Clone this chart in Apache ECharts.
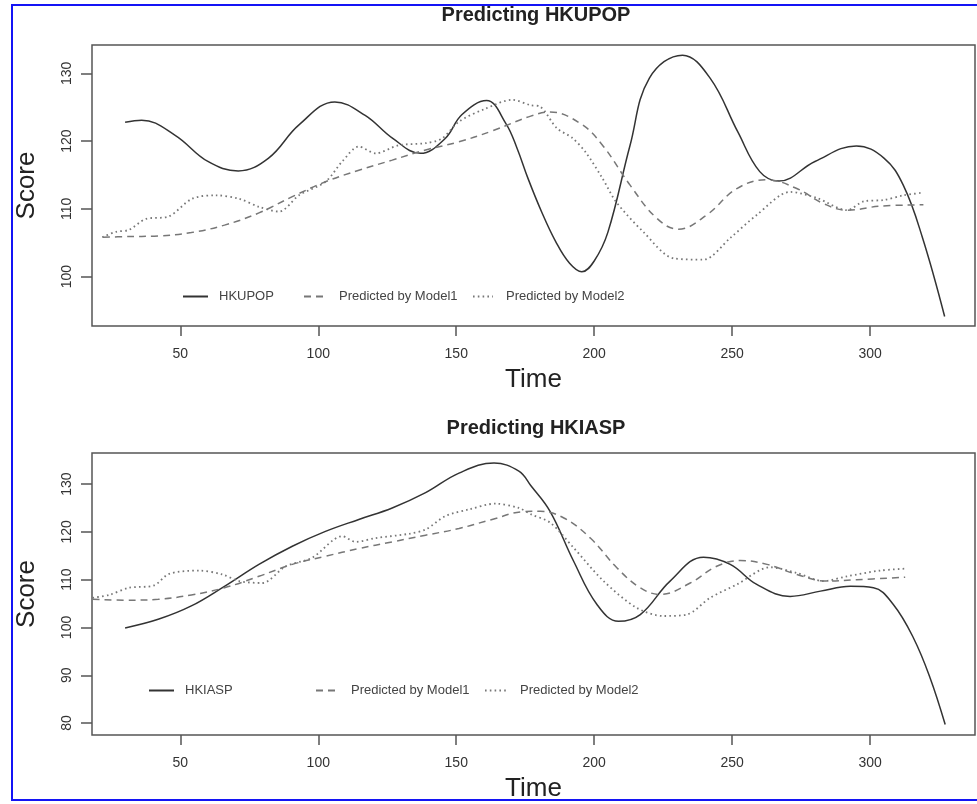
<!DOCTYPE html>
<html>
<head>
<meta charset="utf-8">
<title>Predicting HKUPOP / HKIASP</title>
<script src="https://cdn.jsdelivr.net/npm/echarts@6/dist/echarts.min.js"></script>
<style>
    html, body { margin: 0; padding: 0; background: #fff; overflow: hidden; }
    #main { position: absolute; left: 0; top: 0; width: 977px; height: 804px; }
    #frame { position: absolute; left: 11px; top: 4px; width: 1100px; height: 797px;
             border: 2px solid #1414f5; box-sizing: border-box; pointer-events: none; }
</style>
</head>
<body>
<div id="main"></div>
<div id="frame"></div>
<script>
    // ---- top panel: HKUPOP ----
    var hkupopT = [30, 36, 48, 60, 71, 82, 93, 106, 117, 127, 137, 146, 152, 161, 168, 172, 176, 181, 186, 191, 195.5, 200, 205, 213, 220, 232, 242, 252, 260, 267, 280, 295, 305, 312, 319, 327];
    var hkupopV = [122.8, 123.1, 120.9, 117.0, 115.6, 117.5, 122.4, 125.8, 123.8, 120.4, 118.2, 120.4, 123.9, 126.0, 122.6, 119.0, 114.5, 109.5, 105.2, 102.0, 100.7, 102.3, 106.6, 119.4, 129.3, 132.7, 129.3, 121.4, 115.5, 114.1, 117.0, 119.3, 117.5, 113.5, 105.7, 94.1];

    var popM1T = [22, 30, 42, 54, 66, 78.5, 90.6, 102.6, 114.7, 126.8, 138.9, 151, 163, 177, 184, 195, 203, 213, 222.7, 230.5, 240.8, 251.7, 262.6, 273.4, 283, 291.6, 303.6, 319.3];
    var popM1V = [105.8, 105.9, 106.0, 106.5, 107.6, 109.4, 111.8, 114.0, 115.7, 117.2, 118.7, 119.9, 121.5, 123.7, 124.3, 122.6, 119.4, 113.5, 108.6, 107.0, 109.1, 113.0, 114.3, 113.0, 110.8, 109.8, 110.4, 110.6];

    var popM2T = [21.7, 26.6, 31.4, 37.4, 45.9, 54.3, 62.8, 71.3, 78.5, 85.8, 93, 102.6, 108.7, 114.7, 120.8, 129.2, 138.9, 144.9, 151, 160.6, 170.3, 177, 180.4, 186.5, 192, 197, 203, 208, 217.8, 228.7, 239.6, 249.3, 258.9, 271, 280.7, 291.6, 297.6, 304.8, 312.1, 319.3];
    var popM2V = [105.8, 106.6, 106.9, 108.5, 108.9, 111.5, 112.0, 111.5, 110.3, 109.6, 112.0, 114.0, 117.0, 119.2, 118.2, 119.4, 119.7, 120.4, 122.9, 124.8, 126.1, 125.3, 125.1, 121.9, 120.5, 118.3, 114.5, 111.0, 106.6, 102.7, 102.5, 105.7, 109.1, 112.5, 111.6, 109.8, 111.1, 111.3, 112.0, 112.4];

    // ---- bottom panel: HKIASP ----
    var hkiaspT = [30, 42, 54, 66, 78.5, 90.6, 102.6, 114.7, 126.8, 138.9, 151, 163.7, 172.7, 177, 184, 192.5, 201, 208.8, 216.7, 227.5, 239.6, 249.3, 258.9, 271, 282, 292.8, 301.2, 308.4, 315.7, 321.7, 327.2];
    var hkiaspV = [99.9, 101.7, 104.5, 108.6, 113.2, 117.0, 120.1, 122.6, 125.0, 128.2, 132.3, 134.4, 132.7, 129.7, 124.3, 113.9, 104.8, 101.3, 102.7, 109.7, 114.7, 113.2, 109.0, 106.5, 107.6, 108.6, 108.3, 104.8, 97.8, 89.5, 79.7];

    var iaspM1T = [18.2, 30, 42, 54, 66, 78.5, 90.6, 102.6, 114.7, 126.8, 138.9, 151, 163, 174, 180.4, 189, 198.6, 208.2, 216.7, 224, 234.8, 244.4, 253, 262.6, 273.4, 284.3, 295.2, 312.7];
    var iaspM1V = [105.9, 105.7, 105.9, 106.8, 108.3, 110.7, 113.2, 114.9, 116.5, 117.9, 119.3, 120.7, 122.6, 124.2, 124.3, 122.9, 118.7, 112.5, 108.3, 106.9, 109.3, 112.8, 114.0, 113.2, 111.1, 109.7, 110.0, 110.5];

    var iaspM2T = [18.2, 24.2, 31.4, 40.5, 45.9, 56.8, 65.2, 71.3, 79.7, 88.2, 97.8, 108.7, 113.5, 120.8, 132.9, 138.9, 146.1, 154.6, 164.2, 172.7, 177, 184.1, 192.5, 203.4, 215.4, 225.1, 233.6, 242, 251.7, 263.8, 273.4, 283.1, 291.6, 303.6, 312.7];
    var iaspM2V = [106.2, 106.8, 108.3, 108.8, 111.2, 111.9, 111.1, 109.7, 109.3, 112.8, 114.6, 119.1, 117.9, 118.7, 119.6, 120.5, 123.3, 124.7, 125.9, 125.0, 123.7, 121.9, 116.7, 109.7, 104.1, 102.4, 102.7, 106.2, 109.0, 112.6, 111.4, 109.7, 110.7, 111.9, 112.3];

    // tick labels
    var timeTicks = [50, 100, 150, 200, 250, 300];
    var popTicks = [100, 110, 120, 130];
    var iaspTicks = [80, 90, 100, 110, 120, 130];

    var FONT = '"Liberation Sans", Arial, Helvetica, sans-serif';
    var solidStyle = {color: '#333', width: 1.5, type: 'solid'};
    var dashStyle = {color: '#777', width: 1.5, type: [7, 5]};
    var dotStyle = {color: '#777', width: 1.8, type: [1.6, 3.2]};

    function pairs(xs, ys) {
        return xs.map(function (x, i) { return [x, ys[i]]; });
    }

    function xAxisFor(idx) {
        return {
            type: 'value', gridIndex: idx, min: 18, max: 338,
            name: 'Time', nameLocation: 'middle', nameGap: 41,
            nameTextStyle: {fontFamily: FONT, fontSize: 26, color: '#222'},
            axisLine: {show: false},
            axisTick: {show: true, length: 10, customValues: timeTicks, lineStyle: {color: '#555', width: 1.5}},
            axisLabel: {customValues: timeTicks, margin: 21, fontFamily: FONT, fontSize: 14, color: '#333'},
            splitLine: {show: false}
        };
    }

    function yAxisFor(idx, min, max, ticks) {
        return {
            type: 'value', gridIndex: idx, min: min, max: max,
            name: 'Score', nameLocation: 'middle', nameGap: 52, nameRotate: 90,
            nameTextStyle: {fontFamily: FONT, fontSize: 26, color: '#222'},
            axisLine: {show: false},
            axisTick: {show: true, length: 11, customValues: ticks, lineStyle: {color: '#555', width: 1.5}},
            axisLabel: {customValues: ticks, rotate: 90, margin: 18, fontFamily: FONT, fontSize: 14, color: '#333'},
            splitLine: {show: false}
        };
    }

    function legendFor(name, left, top, w, gap) {
        return {
            data: [name], left: left, top: top, padding: 0,
            itemWidth: w, itemHeight: 10, selectedMode: false,
            itemStyle: {opacity: 0},
            textStyle: {fontFamily: FONT, fontSize: 13, color: '#444', padding: [0, 0, 0, gap]}
        };
    }

    var myChart = echarts.init(document.getElementById('main'));
    var option = {
        animation: false,
        backgroundColor: 'transparent',
        title: [
            {text: 'Predicting HKUPOP', left: 536, top: 5, textAlign: 'center', padding: 0,
             textStyle: {fontFamily: FONT, fontSize: 20, fontWeight: 'bold', color: '#222'}},
            {text: 'Predicting HKIASP', left: 536, top: 418, textAlign: 'center', padding: 0,
             textStyle: {fontFamily: FONT, fontSize: 20, fontWeight: 'bold', color: '#222'}}
        ],
        legend: [
            legendFor('HKUPOP', 182, 290, 25, 6),
            legendFor('Predicted by Model1', 303, 290, 19, 11),
            legendFor('Predicted by Model2', 472, 290, 20, 8),
            legendFor('HKIASP', 148, 684, 25, 6),
            legendFor('Predicted by Model1', 315, 684, 20, 10),
            legendFor('Predicted by Model2', 484, 684, 21, 9)
        ],
        grid: [
            {left: 92, top: 45, right: 2, height: 281, show: true, borderColor: '#555', borderWidth: 1.5, backgroundColor: 'transparent'},
            {left: 92, top: 453, right: 2, height: 282, show: true, borderColor: '#555', borderWidth: 1.5, backgroundColor: 'transparent'}
        ],
        xAxis: [xAxisFor(0), xAxisFor(1)],
        yAxis: [yAxisFor(0, 92.7, 134.2, popTicks), yAxisFor(1, 77.5, 136.5, iaspTicks)],
        series: [
            {name: 'HKUPOP', type: 'line', xAxisIndex: 0, yAxisIndex: 0, data: pairs(hkupopT, hkupopV),
             smooth: 0.4, symbol: 'none', lineStyle: solidStyle, itemStyle: {color: '#333'}},
            {name: 'Predicted by Model1', type: 'line', xAxisIndex: 0, yAxisIndex: 0, data: pairs(popM1T, popM1V),
             smooth: 0.4, symbol: 'none', lineStyle: dashStyle, itemStyle: {color: '#777'}},
            {name: 'Predicted by Model2', type: 'line', xAxisIndex: 0, yAxisIndex: 0, data: pairs(popM2T, popM2V),
             smooth: 0.3, symbol: 'none', lineStyle: dotStyle, itemStyle: {color: '#777'}},
            {name: 'HKIASP', type: 'line', xAxisIndex: 1, yAxisIndex: 1, data: pairs(hkiaspT, hkiaspV),
             smooth: 0.4, symbol: 'none', lineStyle: solidStyle, itemStyle: {color: '#333'}},
            {name: 'Predicted by Model1', type: 'line', xAxisIndex: 1, yAxisIndex: 1, data: pairs(iaspM1T, iaspM1V),
             smooth: 0.4, symbol: 'none', lineStyle: dashStyle, itemStyle: {color: '#777'}},
            {name: 'Predicted by Model2', type: 'line', xAxisIndex: 1, yAxisIndex: 1, data: pairs(iaspM2T, iaspM2V),
             smooth: 0.3, symbol: 'none', lineStyle: dotStyle, itemStyle: {color: '#777'}}
        ]
    };
    myChart.setOption(option);
</script>
</body>
</html>
